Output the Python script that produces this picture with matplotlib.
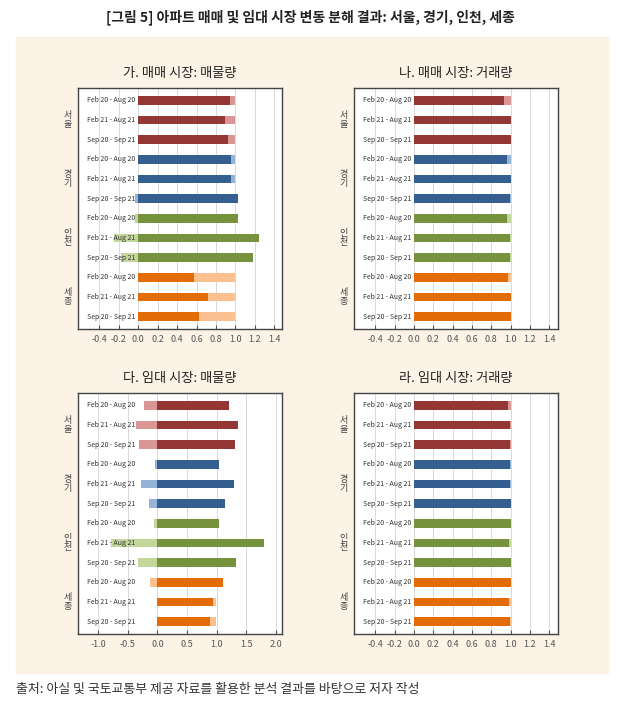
import numpy as np
import matplotlib
matplotlib.use("Agg")
import matplotlib.pyplot as plt
from matplotlib.patches import Rectangle

plt.rcParams['font.family'] = ['Noto Sans CJK KR', 'DejaVu Sans']

# ── Data ───────────────────────────────────────────────────────────────────────
regions = ["서울", "경기", "인천", "세종"]
periods = ["Feb 20 - Aug 20", "Feb 21 - Aug 21", "Sep 20 - Sep 21"]

# dark = main component, light = remaining component (negative -> drawn left of 0)
sale_listing_dark  = [0.94, 0.895, 0.925, 0.955, 0.955, 1.03, 1.03, 1.245, 1.18, 0.57, 0.72, 0.63]
sale_listing_light = [0.06, 0.105, 0.075, 0.045, 0.045, -0.035, -0.03, -0.245, -0.18, 0.43, 0.28, 0.37]

sale_volume_dark  = [0.935, 1.0, 1.0, 0.965, 1.0, 0.99, 0.965, 0.99, 0.99, 0.97, 1.0, 1.0]
sale_volume_light = [0.065, 0.0, 0.0, 0.035, 0.0, 0.01, 0.035, 0.01, 0.01, 0.03, 0.0, 0.0]

rent_listing_dark  = [1.21, 1.365, 1.30, 1.04, 1.29, 1.14, 1.04, 1.80, 1.32, 1.10, 0.935, 0.88]
rent_listing_light = [-0.22, -0.36, -0.31, -0.04, -0.28, -0.14, -0.06, -0.79, -0.33, -0.12, 0.055, 0.11]

rent_volume_dark  = [0.975, 0.99, 0.995, 0.995, 0.995, 1.0, 1.0, 0.985, 1.0, 1.0, 0.98, 0.995]
rent_volume_light = [0.025, 0.01, 0.005, 0.005, 0.005, 0.0, 0.0, 0.015, 0.0, 0.0, 0.02, 0.005]

titles = ["가. 매매 시장: 매물량", "나. 매매 시장: 거래량",
          "다. 임대 시장: 매물량", "라. 임대 시장: 거래량"]

dark_colors  = ["#943634", "#365f91", "#76923c", "#e36c09"]
light_colors = ["#d99694", "#95b3d7", "#c3d69b", "#fac08f"]

W, H = 620, 707
fig = plt.figure(figsize=(W / 100, H / 100), dpi=100)
fig.patches.append(Rectangle((16 / W, 1 - 673 / H), 592 / W, 636 / H,
                             transform=fig.transFigure, color="#fcf2e6", zorder=-10))

fig.text(0.5, 1 - 17 / H,
         "[그림 5] 아파트 매매 및 임대 시장 변동 분해 결과: 서울, 경기, 인천, 세종",
         ha="center", va="center", fontsize=10, fontweight="bold", color="#222")
fig.text(16 / W, 1 - 689 / H,
         "출처: 아실 및 국토교통부 제공 자료를 활용한 분석 결과를 바탕으로 저자 작성",
         ha="left", va="center", fontsize=9.3, color="#333")


def panel(rect, dark, light, title, xlim, ticks, ticklabels):
    ax = fig.add_axes(rect)
    ax.set_facecolor("white")
    n = len(dark)
    y = np.arange(n)
    cols_d = [dark_colors[i // 3] for i in range(n)]
    cols_l = [light_colors[i // 3] for i in range(n)]
    dark = np.array(dark)
    light = np.array(light)
    left_l = np.where(light >= 0, dark, 0.0)
    ax.barh(y, dark, height=0.44, color=cols_d, zorder=2)
    ax.barh(y, light, left=left_l, height=0.44, color=cols_l, zorder=2)
    # category labels sit at a fixed spot inside the frame
    for i in range(n):
        ax.text(0.28, y[i], periods[i % 3], ha="right", va="center",
                transform=ax.get_yaxis_transform(),
                fontsize=5.0, color="#333", zorder=3)
    for k, reg in enumerate(regions):
        ax.text(-0.05, 1 - (3 * k + 1 + 0.63) / (n + 0.26), "\n".join(reg),
                transform=ax.transAxes, ha="center", va="center",
                fontsize=6.5, color="#444", linespacing=1.1)
    ax.set_ylim(n - 1 + 0.63, -0.63)
    ax.set_yticks([])
    ax.set_xlim(*xlim)
    ax.set_xticks(ticks)
    ax.set_xticklabels(ticklabels)
    ax.tick_params(axis="x", direction="in", length=3, labelsize=6.5,
                   colors="#555", pad=4)
    ax.grid(axis="x", color="#d9d9d9", lw=0.7, zorder=0)
    for s in ax.spines.values():
        s.set_color("#444")
        s.set_linewidth(1.0)
    ax.set_title(title, fontsize=9.5, color="#222", pad=8)
    return ax


t1 = [-0.4, -0.2, 0.0, 0.2, 0.4, 0.6, 0.8, 1.0, 1.2, 1.4]
l1 = [f"{v:.1f}" for v in t1]
t2 = [-1.0, -0.5, 0.0, 0.5, 1.0, 1.5, 2.0]
l2 = [f"{v:.1f}" for v in t2]

top_b, bot_b = 1 - 329 / H, 1 - 634 / H
hgt = 241 / H
wid = 204 / W
panel([78 / W, top_b, wid, hgt], sale_listing_dark, sale_listing_light,
      titles[0], (-0.62, 1.48), t1, l1)
panel([354 / W, top_b, wid, hgt], sale_volume_dark, sale_volume_light,
      titles[1], (-0.62, 1.49), t1, l1)
panel([78 / W, bot_b, wid, hgt], rent_listing_dark, rent_listing_light,
      titles[2], (-1.34, 2.1), t2, l2)
panel([354 / W, bot_b, wid, hgt], rent_volume_dark, rent_volume_light,
      titles[3], (-0.62, 1.49), t1, l1)

fig.savefig("out.png", dpi=100)
